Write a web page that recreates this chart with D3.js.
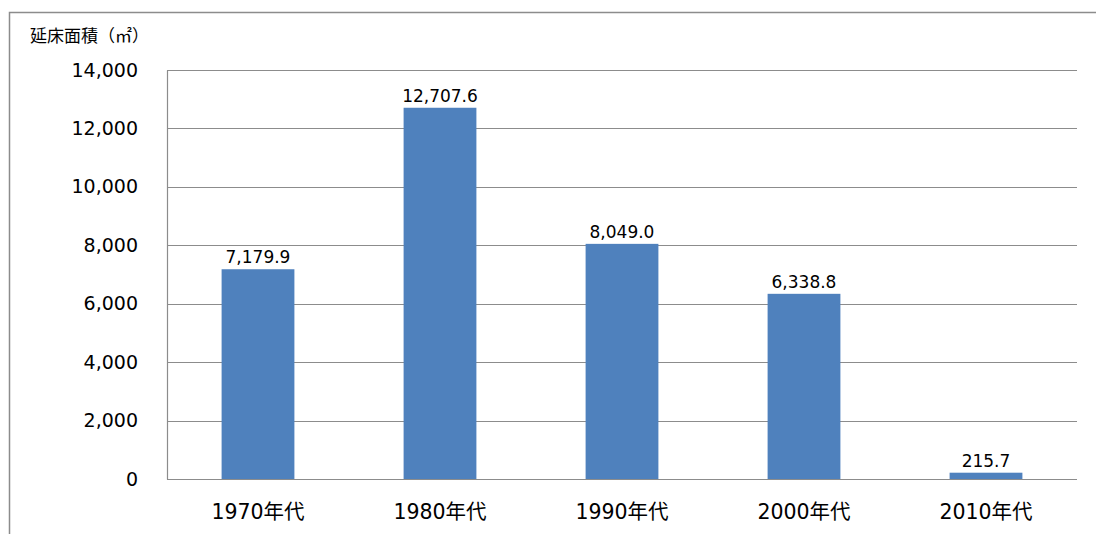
<!DOCTYPE html>
<html><head><meta charset="utf-8">
<script src="https://cdn.jsdelivr.net/npm/d3@7"></script>
<style>body{margin:0;background:#fff}svg{display:block}</style>
</head><body>
<script>
const categories = ["1970年代","1980年代","1990年代","2000年代","2010年代"];
const values = [7179.9, 12707.6, 8049.0, 6338.8, 215.7];
const yTicks = [0,2000,4000,6000,8000,10000,12000,14000];
const yTitle = "延床面積（㎡）";

const W = 1096, H = 534;
const svg = d3.select("body").append("svg").attr("width", W).attr("height", H);
const font = "'DejaVu Sans','Noto Sans CJK JP',sans-serif";
const cjk = "'Noto Sans CJK JP',sans-serif";

svg.append("rect").attr("x",9.5).attr("y",12.5).attr("width",1200).attr("height",700)
  .attr("fill","none").attr("stroke","#8c8c8c").attr("stroke-width",1.5);

const pL = 167, pR = 1077, pT = 70, pB = 479;
const x = d3.scaleBand().domain(categories).range([pL,pR]).paddingInner(0.6).paddingOuter(0.3);
const y = d3.scaleLinear().domain([0,14000]).range([pB, pT]);

// gridlines
svg.append("g").selectAll("line").data(yTicks).join("line")
  .attr("x1",pL).attr("x2",pR)
  .attr("y1",d=>Math.round(y(d))+0.5).attr("y2",d=>Math.round(y(d))+0.5)
  .attr("stroke","#8c8c8c").attr("stroke-width",1.2);

// y axis
const yAxis = svg.append("g").attr("transform",`translate(${pL},0)`)
  .call(d3.axisLeft(y).tickValues(yTicks).tickFormat(d3.format(",")).tickSize(0).tickPadding(29));
yAxis.select(".domain").attr("stroke","#8c8c8c").attr("stroke-width",1.2);
yAxis.selectAll("text").attr("font-family",font).attr("font-size",19).attr("fill","#000");

// bars
svg.append("g").selectAll("rect").data(values).join("rect")
  .attr("x",(d,i)=>x(categories[i])).attr("width",x.bandwidth())
  .attr("y",d=>y(d)).attr("height",d=>pB-y(d)).attr("fill","#4F81BD");

// value labels
svg.append("g").selectAll("text").data(values).join("text")
  .attr("x",(d,i)=>x(categories[i])+x.bandwidth()/2).attr("y",d=>y(d)-6)
  .attr("text-anchor","middle").attr("font-family",font).attr("font-size",17)
  .text(d=>d3.format(",.1f")(d));

// x axis
const xAxis = svg.append("g").attr("transform",`translate(0,${pB})`)
  .call(d3.axisBottom(x).tickSize(0).tickPadding(25));
xAxis.select(".domain").remove();
xAxis.selectAll("text").attr("font-family",font).attr("font-size",20.5).attr("fill","#000");
svg.append("line").attr("x1",pL).attr("x2",pR).attr("y1",pB+0.5).attr("y2",pB+0.5)
  .attr("stroke","#8c8c8c").attr("stroke-width",1.2);

svg.append("text").attr("x",30).attr("y",42).attr("font-family",cjk).attr("font-size",17)
  .text(yTitle);
</script>
</body></html>
